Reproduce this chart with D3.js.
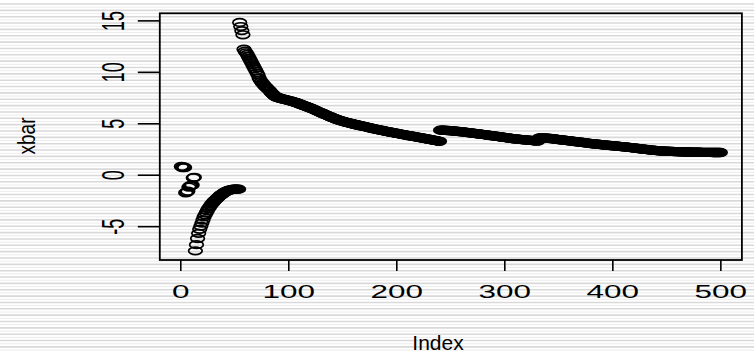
<!DOCTYPE html>
<html><head><meta charset="utf-8">
<script src="https://cdn.jsdelivr.net/npm/d3@7"></script>
<style>html,body{margin:0;padding:0;background:#fff;overflow:hidden;} svg{display:block;}</style>
</head><body>
<svg id="chart" width="754" height="353"></svg>
<script>
// Running mean values (xbar) by index 1..500
const xbarA = [0.8, 0.7, 0.75, 0.7, -1.75, -1.7, -1.6, -1.2, -1.1, -1.05,
  -1.0, -0.3, -0.25, -7.4, -6.8, -6.2, -5.7, -5.3, -5.0, -4.7,
  -4.4, -4.1, -3.9, -3.7, -3.5, -3.3, -3.15, -3.0, -2.85, -2.75,
  -2.6, -2.5, -2.4, -2.3, -2.2, -2.1, -2.0, -1.95, -1.85, -1.8,
  -1.7, -1.65, -1.6, -1.55, -1.5, -1.5, -1.45, -1.45, -1.4, -1.4,
  -1.4, -1.4, -1.4, -1.4];
const xbarD = [14.8, 14.4, 14.0, 13.6, 12.2, 12.0, 11.85, 11.7, 11.5, 11.3,
  11.1, 10.9, 10.7, 10.5, 10.3, 10.1, 9.9, 9.7, 9.4, 9.2,
  9.05, 8.9, 8.8, 8.65, 8.55, 8.45, 8.35, 8.25, 8.15, 8.0,
  7.9, 7.8, 7.7, 7.6, 7.55, 7.5, 7.5, 7.45, 7.4, 7.4,
  7.35, 7.35, 7.3, 7.3, 7.25,
  7.22, 7.2, 7.17, 7.14, 7.11, 7.08, 7.05, 7.02, 6.98, 6.95,
  6.9, 6.86, 6.82, 6.78, 6.74, 6.7, 6.66, 6.62, 6.58, 6.54,
  6.5, 6.46, 6.42, 6.37, 6.33, 6.28, 6.23, 6.18, 6.13, 6.09,
  6.04, 6.0, 5.95, 5.9, 5.86, 5.81, 5.77, 5.72, 5.68, 5.63,
  5.59, 5.55, 5.5, 5.46, 5.42, 5.38, 5.34, 5.3, 5.27, 5.24,
  5.21, 5.18, 5.15, 5.12, 5.09, 5.07, 5.04, 5.01, 4.98, 4.96,
  4.93, 4.91, 4.88, 4.86, 4.83, 4.81, 4.79, 4.76, 4.74, 4.72,
  4.7, 4.67, 4.65, 4.62, 4.6, 4.57, 4.55, 4.52, 4.5, 4.47,
  4.45, 4.43, 4.41, 4.38, 4.36, 4.34, 4.32, 4.3, 4.28, 4.26,
  4.23, 4.21, 4.19, 4.17, 4.15, 4.13, 4.11, 4.09, 4.07, 4.05,
  4.03, 4.01, 3.99, 3.97, 3.95, 3.93, 3.91, 3.89, 3.87, 3.85,
  3.83, 3.81, 3.79, 3.77, 3.75, 3.74, 3.72, 3.7, 3.68, 3.66,
  3.65, 3.63, 3.61, 3.59, 3.57, 3.55, 3.53, 3.51, 3.49, 3.47,
  3.45, 3.43, 3.41, 3.39, 3.37, 3.35, 3.33, 3.31, 3.29, 3.27, 3.25];
const xbarE = [4.33, 4.33, 4.32, 4.32, 4.31, 4.31, 4.3, 4.3, 4.29, 4.28,
  4.27, 4.26, 4.25, 4.24, 4.23, 4.22, 4.21, 4.2, 4.19, 4.18,
  4.17, 4.16, 4.14, 4.13, 4.12, 4.1, 4.09, 4.08, 4.06, 4.05,
  4.04, 4.02, 4.01, 4.0, 3.98, 3.97, 3.96, 3.94, 3.93, 3.92,
  3.9, 3.89, 3.87, 3.86, 3.84, 3.83, 3.81, 3.8, 3.79, 3.78,
  3.76, 3.75, 3.73, 3.72, 3.7, 3.69, 3.67, 3.66, 3.64, 3.63,
  3.61, 3.6, 3.58, 3.57, 3.55, 3.54, 3.52, 3.51, 3.49, 3.48,
  3.47, 3.46, 3.45, 3.44, 3.43, 3.42, 3.41, 3.4, 3.39, 3.38,
  3.37, 3.36, 3.35, 3.34, 3.33, 3.32, 3.31, 3.3, 3.29, 3.28,
  3.27, 3.55, 3.57, 3.58, 3.58, 3.57, 3.57, 3.56, 3.56, 3.55,
  3.54, 3.53, 3.52, 3.5, 3.49, 3.48, 3.47, 3.45, 3.44, 3.42,
  3.41, 3.4, 3.39, 3.37, 3.36, 3.35, 3.34, 3.32, 3.31, 3.3,
  3.29, 3.27, 3.26, 3.25, 3.23, 3.22, 3.21, 3.2, 3.18, 3.17,
  3.16, 3.14, 3.13, 3.12, 3.1, 3.09, 3.07, 3.06, 3.05, 3.03,
  3.02, 3.01, 3.0, 2.99, 2.98, 2.97, 2.96, 2.94, 2.93, 2.92,
  2.91, 2.9, 2.89, 2.88, 2.87, 2.86, 2.85, 2.84, 2.83, 2.82,
  2.81, 2.8, 2.79, 2.78, 2.77, 2.76, 2.75, 2.74, 2.73, 2.72,
  2.71, 2.7, 2.68, 2.67, 2.66, 2.65, 2.64, 2.63, 2.61, 2.6,
  2.59, 2.58, 2.56, 2.55, 2.54, 2.52, 2.51, 2.5, 2.48, 2.47,
  2.46, 2.45, 2.44, 2.42, 2.41, 2.4, 2.39, 2.38, 2.37, 2.36,
  2.35, 2.34, 2.33, 2.33, 2.32, 2.31, 2.3, 2.3, 2.29, 2.28,
  2.28, 2.27, 2.27, 2.26, 2.26, 2.26, 2.25, 2.25, 2.24, 2.24,
  2.24, 2.23, 2.23, 2.23, 2.22, 2.22, 2.22, 2.21, 2.21, 2.21,
  2.21, 2.2, 2.2, 2.2, 2.2, 2.2, 2.19, 2.19, 2.19, 2.19,
  2.19, 2.18, 2.18, 2.18, 2.18, 2.18, 2.17, 2.17, 2.17, 2.17,
  2.17, 2.17, 2.16, 2.16, 2.16, 2.16, 2.16, 2.16, 2.16, 2.16];
const xbar = xbarA.concat(xbarD, xbarE);
const xTicks = [0, 100, 200, 300, 400, 500];
const yTicks = [-5, 0, 5, 10, 15];
const xLabel = "Index";
const yLabel = "xbar";

const W = 754, H = 353;
const svg = d3.select("#chart");
const font = "'Liberation Sans', Arial, Helvetica, sans-serif";

// background stripes
const stripeMain = d3.range(4, H, 6.35);
svg.append("g").selectAll("line").data(stripeMain).join("line")
  .attr("x1", 0).attr("x2", W).attr("y1", d => d).attr("y2", d => d)
  .attr("stroke", "#d9d9d9").attr("stroke-width", 1.6);
svg.append("g").selectAll("line").data(stripeMain).join("line")
  .attr("x1", 0).attr("x2", W).attr("y1", d => d + 3.2).attr("y2", d => d + 3.2)
  .attr("stroke", "#ececec").attr("stroke-width", 1);

const n = xbar.length;
const xr = (n - 1) * 0.04;
const x = d3.scaleLinear().domain([1 - xr, n + xr]).range([159.8, 741.9]);
const ymin = d3.min(xbar), ymax = d3.max(xbar), yr = (ymax - ymin) * 0.04;
const y = d3.scaleLinear().domain([ymin - yr, ymax + yr]).range([260, 13.3]);

// points
svg.append("g").selectAll("ellipse").data(xbar).join("ellipse")
  .attr("cx", (d, i) => x(i + 1)).attr("cy", d => y(d))
  .attr("rx", 6.8).attr("ry", 3.8)
  .attr("fill", "none").attr("stroke", "#000").attr("stroke-width", 1.7);

// box
const [bx0, bx1] = x.range(), [by0, by1] = y.range();
svg.append("rect").attr("x", bx0).attr("y", by1).attr("width", bx1 - bx0).attr("height", by0 - by1)
  .attr("fill", "none").attr("stroke", "#000").attr("stroke-width", 1.8);

// x axis
const xa = svg.append("g").attr("transform", `translate(0,${by0})`)
  .call(d3.axisBottom(x).tickValues(xTicks).tickSize(11).tickPadding(0).tickFormat(d3.format("d")));
xa.select(".domain").remove();
xa.selectAll(".tick line").attr("stroke", "#000").attr("stroke-width", 1.6);
xa.selectAll(".tick text").text(null);
xa.selectAll(".tick").append("text")
  .attr("transform", "translate(0,38) scale(1.7,1)")
  .attr("text-anchor", "middle").attr("fill", "#000")
  .style("font-family", font).style("font-size", "18.5px")
  .text(d => d);

// y axis
const ya = svg.append("g").attr("transform", `translate(${bx0},0)`)
  .call(d3.axisLeft(y).tickValues(yTicks).tickSize(22).tickPadding(0));
ya.select(".domain").remove();
ya.selectAll(".tick line").attr("stroke", "#000").attr("stroke-width", 1.6);
ya.selectAll(".tick text").text(null);
ya.selectAll(".tick").append("text")
  .attr("transform", "translate(-47,0) scale(1.75,1) rotate(-90)")
  .attr("text-anchor", "middle").attr("dy", "0.35em").attr("fill", "#000")
  .style("font-family", font).style("font-size", "18px")
  .text(d => d);

// axis titles
svg.append("text").attr("transform", "translate(438,350) scale(1,1)")
  .attr("text-anchor", "middle").attr("fill", "#000")
  .style("font-family", font).style("font-size", "21px").text(xLabel);
svg.append("text").attr("transform", "translate(26,136) scale(1.3,1) rotate(-90)")
  .attr("text-anchor", "middle").attr("dy", "0.35em").attr("fill", "#000")
  .style("font-family", font).style("font-size", "19px").text(yLabel);
</script>
</body></html>
